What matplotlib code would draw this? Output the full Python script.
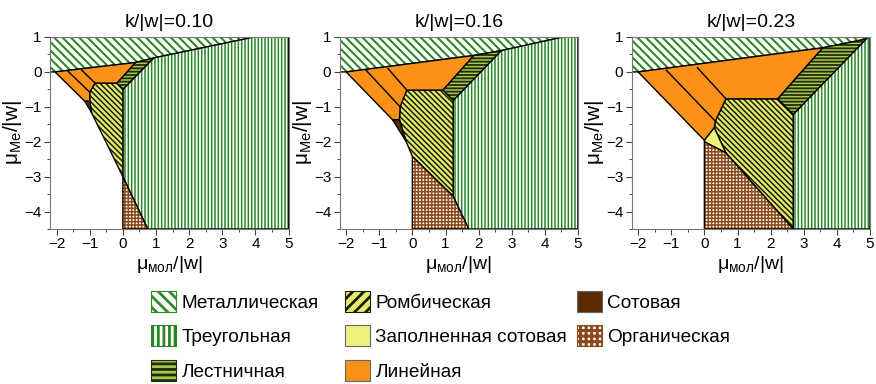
import matplotlib
matplotlib.use("Agg")
import matplotlib.pyplot as plt
from matplotlib.patches import Polygon, Patch
from matplotlib.ticker import MultipleLocator

plt.rcParams['font.family'] = ['Liberation Sans', 'DejaVu Sans']
plt.rcParams['mathtext.default'] = 'regular'

# ---------------- data: phase region vertices (x = mu_mol/|w|, y = mu_Me/|w|) ----------
titles = ["k/|w|=0.10", "k/|w|=0.16", "k/|w|=0.23"]

# panel k=0.10
metal_010 = [(-2.2, 0.0), (-2.2, 1.0), (3.97, 1.0), (0.93, 0.40), (0.38, 0.27), (-2.05, 0.0)]
tri_010 = [(0.93, 0.40), (3.97, 1.0), (5.0, 1.0), (5.0, -4.5), (0.75, -4.5), (0.0, -3.0), (0.0, -0.5)]
ladder_010 = [(0.38, 0.27), (0.93, 0.40), (0.0, -0.5), (-0.18, -0.32)]
rhomb_010 = [(-0.84, -0.32), (-0.18, -0.32), (0.0, -0.5), (0.0, -3.0), (-0.94, -1.18), (-1.0, -0.84), (-1.0, -0.58)]
linear_010 = [(-2.05, 0.0), (0.38, 0.27), (-0.18, -0.32), (-0.84, -0.32), (-1.0, -0.58), (-1.0, -0.84), (-1.15, -0.84)]
honey_010 = [(-1.15, -0.84), (-1.0, -0.84), (-0.94, -1.18)]
filled_010 = []
organic_010 = [(0.0, -3.0), (0.75, -4.5), (0.0, -4.5)]
lines_010 = [[(-1.66, 0.02), (-1.0, -0.58)], [(-1.25, 0.06), (-0.84, -0.32)]]

# panel k=0.16
metal_016 = [(-2.2, 0.0), (-2.2, 1.0), (4.55, 1.0), (2.68, 0.61), (1.85, 0.47), (-2.0, 0.0)]
tri_016 = [(2.68, 0.61), (4.55, 1.0), (5.0, 1.0), (5.0, -4.5), (1.70, -4.5), (1.23, -3.56), (1.23, -0.82)]
ladder_016 = [(1.85, 0.47), (2.68, 0.61), (1.23, -0.82), (0.92, -0.52)]
rhomb_016 = [(-0.17, -0.52), (0.92, -0.52), (1.23, -0.82), (1.23, -3.56), (0.0, -2.42), (-0.19, -1.99), (-0.39, -1.37), (-0.37, -1.0)]
linear_016 = [(-2.0, 0.0), (1.85, 0.47), (0.92, -0.52), (-0.17, -0.52), (-0.37, -1.0), (-0.39, -1.37), (-0.6, -1.37)]
honey_016 = [(-0.6, -1.37), (-0.39, -1.37), (-0.19, -1.99)]
filled_016 = []
organic_016 = [(0.0, -2.42), (1.23, -3.56), (1.70, -4.5), (0.0, -4.5)]
lines_016 = [[(-1.40, 0.05), (-0.37, -1.0)], [(-0.74, 0.10), (-0.17, -0.52)]]

# panel k=0.23
metal_023 = [(-2.2, 0.0), (-2.2, 1.0), (4.95, 1.0), (4.88, 0.94), (3.57, 0.69), (-2.0, 0.0)]
tri_023 = [(4.88, 0.94), (4.95, 1.0), (5.0, 1.0), (5.0, -4.5), (2.68, -4.5), (2.68, -1.22)]
ladder_023 = [(3.57, 0.69), (4.88, 0.94), (2.68, -1.22), (2.21, -0.77)]
rhomb_023 = [(0.65, -0.77), (2.21, -0.77), (2.68, -1.22), (2.68, -4.5), (0.65, -2.32), (0.30, -1.60), (0.33, -1.41)]
linear_023 = [(-2.0, 0.0), (3.57, 0.69), (2.21, -0.77), (0.65, -0.77), (0.33, -1.41), (0.30, -1.60), (0.0, -1.96)]
honey_023 = []
filled_023 = [(0.0, -1.96), (0.30, -1.60), (0.65, -2.32), (0.0, -2.0)]
organic_023 = [(0.0, -2.0), (0.65, -2.32), (2.68, -4.5), (0.0, -4.5)]
lines_023 = [[(-1.15, 0.05), (0.33, -1.41)], [(-0.21, 0.12), (0.65, -0.77)]]

panels = [
    dict(metal=metal_010, tri=tri_010, ladder=ladder_010, rhomb=rhomb_010, linear=linear_010,
         honey=honey_010, filled=filled_010, organic=organic_010, lines=lines_010),
    dict(metal=metal_016, tri=tri_016, ladder=ladder_016, rhomb=rhomb_016, linear=linear_016,
         honey=honey_016, filled=filled_016, organic=organic_016, lines=lines_016),
    dict(metal=metal_023, tri=tri_023, ladder=ladder_023, rhomb=rhomb_023, linear=linear_023,
         honey=honey_023, filled=filled_023, organic=organic_023, lines=lines_023),
]

labels = {
    'metal': "Металлическая", 'tri': "Треугольная", 'ladder': "Лестничная",
    'rhomb': "Ромбическая", 'filled': "Заполненная сотовая", 'linear': "Линейная",
    'honey': "Сотовая", 'organic': "Органическая",
}

# ---------------- styles ----------------
styles = {
    'metal':   dict(face='white',   hatch='\\\\\\\\', hcol='#2f8a28', hlw=1.5),
    'tri':     dict(face='white',   hatch='|||||',    hcol='#2a8726', hlw=1.1),
    'ladder':  dict(face='#a6c94c', hatch='-----',    hcol='#1f2b0c', hlw=1.3),
    'rhomb':   dict(face='#e3ec6c', hatch='\\\\\\\\\\\\', hcol='#1c1c05', hlw=1.1),
    'filled':  dict(face='#eef27a', hatch=None,       hcol=None,      hlw=1.0),
    'linear':  dict(face='#fb9116', hatch=None,       hcol=None,      hlw=1.0),
    'honey':   dict(face='#5a2a00', hatch=None,       hcol=None,      hlw=1.0),
    'organic': dict(face='white',   hatch='+++++',    hcol='#8a4a1c', hlw=1.1),
}
legend_hatch = {'metal': '\\\\\\', 'tri': '|||', 'ladder': '---', 'rhomb': '///', 'organic': '+++'}


def make_patch(verts, key, hatch=None, **kw):
    st = styles[key]
    h = st['hatch'] if hatch is None else hatch
    plt.rcParams['hatch.linewidth'] = st['hlw']
    if h:
        p = Polygon(verts, closed=True, facecolor=st['face'], edgecolor=st['hcol'],
                    hatch=h, linewidth=0, **kw)
    else:
        p = Polygon(verts, closed=True, facecolor=st['face'], edgecolor='none', linewidth=0, **kw)
    try:
        p.set_hatch_linewidth(st['hlw'])
    except AttributeError:
        pass
    return p


W, H = 876, 384
fig = plt.figure(figsize=(W / 100, H / 100), dpi=100)

ax_lefts = [50, 339.5, 631.5]
ax_w = 238.5
ax_top, ax_bot = 37, 229

order = ['metal', 'tri', 'ladder', 'rhomb', 'linear', 'honey', 'filled', 'organic']

for i, pdata in enumerate(panels):
    ax = fig.add_axes([ax_lefts[i] / W, 1 - ax_bot / H, ax_w / W, (ax_bot - ax_top) / H])
    for key in order:
        verts = pdata[key]
        if not verts:
            continue
        ax.add_patch(make_patch(verts, key))
        ax.add_patch(Polygon(verts, closed=True, facecolor='none', edgecolor='black',
                             linewidth=1.0, joinstyle='miter'))
    for seg in pdata['lines']:
        xs, ys = zip(*seg)
        ax.plot(xs, ys, color='black', linewidth=1.0)
    ax.set_xlim(-2.2, 5)
    ax.set_ylim(-4.5, 1)
    ax.xaxis.set_major_locator(MultipleLocator(1))
    ax.xaxis.set_minor_locator(MultipleLocator(0.5))
    ax.yaxis.set_major_locator(MultipleLocator(1))
    ax.yaxis.set_minor_locator(MultipleLocator(0.5))
    ax.tick_params(which='major', direction='out', length=4, width=0.8, labelsize=11,
                   color='#444444', pad=2)
    ax.tick_params(which='minor', direction='out', length=2.5, width=0.7, color='#444444')
    for sp in ax.spines.values():
        sp.set_color('#777777')
        sp.set_linewidth(0.8)
    ax.set_title(titles[i], fontsize=14, pad=7)
    ax.set_xlabel('μ$_{мол}$/|w|', fontsize=14, labelpad=2)
    ax.set_ylabel('μ$_{Me}$/|w|', fontsize=15, labelpad=0)

# ---------------- legend (three columns) ----------------
columns = [['metal', 'tri', 'ladder'], ['rhomb', 'filled', 'linear'], ['honey', 'organic']]
col_x = [151, 345, 577]
for cx, keys in zip(col_x, columns):
    handles = []
    for key in keys:
        st = styles[key]
        h = legend_hatch.get(key)
        plt.rcParams['hatch.linewidth'] = 2.0 if key != 'organic' else 2.2
        if h:
            hp = Patch(facecolor=st['face'], edgecolor=st['hcol'], hatch=h, linewidth=0.8)
        else:
            hp = Patch(facecolor=st['face'], edgecolor='#666666', linewidth=0.8)
        handles.append(hp)
    leg = fig.legend(handles, [labels[k] for k in keys], loc='upper left',
                     bbox_to_anchor=(cx / W, 1 - 291 / H), frameon=False, fontsize=13.7,
                     handlelength=1.3, handleheight=1.3, handletextpad=0.3,
                     labelspacing=0.72, borderpad=0, borderaxespad=0)

fig.savefig('out.png', dpi=100)
